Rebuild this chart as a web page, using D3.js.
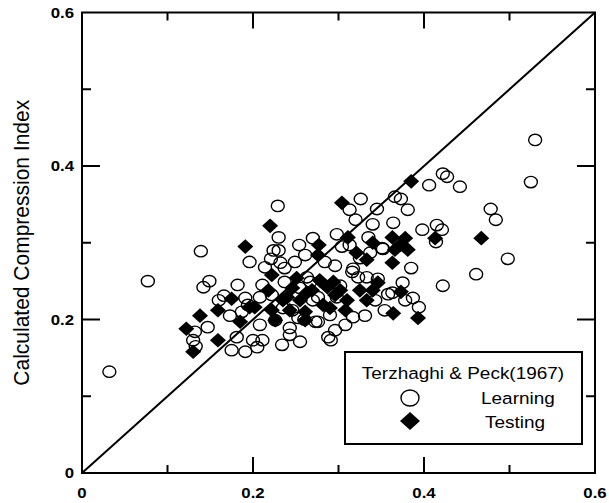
<!DOCTYPE html>
<html>
<head>
<meta charset="utf-8">
<script src="https://cdn.jsdelivr.net/npm/d3@7"></script>
<style>
  html, body { margin: 0; padding: 0; background: #fff; }
  svg { display: block; }
  text { font-family: "Liberation Sans", Arial, sans-serif; fill: #000; }
</style>
</head>
<body>
<svg id="chart" width="609" height="503"></svg>
<script>
// Measured vs. calculated compression index (Terzhaghi & Peck, 1967)
const learningX = [0.032,0.077,0.139,0.149,0.142,0.196,0.214,0.221,0.232,0.191,0.187,0.147,0.132,0.130,0.133,
  0.229,0.230,0.224,0.230,0.254,0.270,0.298,0.304,0.326,0.313,0.320,0.345,0.340,0.364,0.335,0.351,0.366,0.373,0.381,
  0.406,0.422,0.427,0.442,0.530,0.525,0.478,0.484,0.498,0.461,0.422,0.398,0.415,0.421,0.414,0.385,0.352,0.337,
  0.296,0.317,0.323,0.333,0.346,0.375,0.363,0.358,0.394,0.317,0.273,0.276,0.253,0.243,0.288,0.181,0.222,0.263,
  0.267,0.270,0.276,0.298,0.316,0.175,0.191,0.205,0.211,0.200,0.255,0.173,0.235,0.208,0.237,0.255,0.302,0.284,
  0.387,0.331,0.296,0.291,0.166,0.160,0.246,0.260,
  0.237,0.249,0.261,0.313,0.325,0.290,0.308,0.343,0.354,0.378,0.226,0.208,0.234,0.243,0.194,0.182,0.211];
const learningY = [0.132,0.250,0.289,0.250,0.242,0.275,0.268,0.279,0.274,0.228,0.210,0.190,0.184,0.173,0.165,
  0.348,0.307,0.290,0.290,0.297,0.306,0.311,0.295,0.357,0.343,0.330,0.344,0.324,0.326,0.307,0.293,0.360,0.357,0.343,
  0.375,0.390,0.386,0.373,0.434,0.379,0.344,0.330,0.279,0.259,0.244,0.317,0.323,0.317,0.301,0.267,0.292,0.287,
  0.270,0.266,0.255,0.255,0.253,0.248,0.235,0.233,0.216,0.203,0.197,0.197,0.202,0.189,0.177,0.177,0.232,0.255,
  0.249,0.225,0.229,0.229,0.262,0.160,0.158,0.164,0.173,0.173,0.171,0.205,0.215,0.229,0.249,0.241,0.244,0.275,
  0.228,0.205,0.186,0.173,0.231,0.225,0.212,0.200,
  0.267,0.275,0.284,0.297,0.280,0.206,0.193,0.225,0.212,0.225,0.199,0.193,0.167,0.180,0.219,0.245,0.245];

const testingX = [0.191,0.220,0.175,0.159,0.138,0.202,0.185,0.222,0.277,0.276,0.304,0.311,0.321,0.340,0.333,0.363,
  0.364,0.290,0.226,0.222,0.196,0.246,0.240,0.278,0.287,0.263,0.302,0.310,0.325,0.333,0.340,0.385,0.467,0.413,
  0.363,0.372,0.381,0.366,0.378,0.346,0.373,0.393,0.130,0.159,0.122,0.308,0.294,0.261,
  0.255,0.269,0.282,0.296,0.243,0.261,0.235,0.251,0.218];
const testingY = [0.295,0.322,0.227,0.212,0.205,0.216,0.197,0.258,0.297,0.284,0.352,0.307,0.287,0.300,0.278,0.274,
  0.208,0.215,0.199,0.212,0.216,0.241,0.229,0.251,0.242,0.235,0.238,0.225,0.238,0.225,0.238,0.380,0.306,0.306,
  0.307,0.297,0.291,0.291,0.306,0.248,0.236,0.202,0.158,0.173,0.188,0.212,0.249,0.199,
  0.225,0.238,0.219,0.232,0.212,0.210,0.225,0.254,0.238];

const xTickValues = [0, 0.2, 0.4, 0.6];
const yTickValues = [0, 0.2, 0.4, 0.6];
const minorTickValues = [0.1, 0.3, 0.5];
const yAxisTitle = "Calculated Compression Index";
const legendTitle = "Terzhaghi & Peck(1967)";
const seriesNames = ["Learning", "Testing"];

const svg = d3.select("#chart");
const plotL = 82, plotR = 595, plotT = 12.5, plotB = 473;
const x = d3.scaleLinear().domain([0, 0.6]).range([plotL, plotR]);
const y = d3.scaleLinear().domain([0, 0.6]).range([plotB, plotT]);
const sx = 1.2; // glyphs are drawn slightly wide

function wideText(g, px, py, str, opts) {
  return g.append("text")
    .attr("transform", `translate(${px},${py}) scale(${opts.sx || sx},1)`)
    .attr("font-size", opts.size)
    .attr("font-weight", opts.weight || "normal")
    .attr("text-anchor", opts.anchor || "start")
    .text(str);
}

// diagonal 1:1 line
svg.append("line")
  .attr("x1", x(0)).attr("y1", y(0)).attr("x2", x(0.6)).attr("y2", y(0.6))
  .attr("stroke", "#000").attr("stroke-width", 2);

// learning points: open circles
const learning = d3.zip(learningX, learningY);
svg.append("g").selectAll("ellipse").data(learning).join("ellipse")
  .attr("cx", d => x(d[0])).attr("cy", d => y(d[1]))
  .attr("rx", 6.5).attr("ry", 5.7)
  .attr("fill", "none").attr("stroke", "#000").attr("stroke-width", 1.4);

// testing points: filled diamonds
const diamond = (cx, cy, hw, hh) => `M${cx},${cy-hh}L${cx+hw},${cy}L${cx},${cy+hh}L${cx-hw},${cy}Z`;
const testing = d3.zip(testingX, testingY);
svg.append("g").selectAll("path").data(testing).join("path")
  .attr("d", d => diamond(x(d[0]), y(d[1]), 8, 7.3))
  .attr("fill", "#000");

// frame
svg.append("rect")
  .attr("x", plotL).attr("y", plotT).attr("width", plotR - plotL).attr("height", plotB - plotT)
  .attr("fill", "none").attr("stroke", "#000").attr("stroke-width", 2);

// inward ticks on all four sides
const ticks = svg.append("g").attr("stroke", "#000").attr("stroke-width", 2);
[0.2, 0.4].forEach(v => {
  ticks.append("line").attr("x1", x(v)).attr("x2", x(v)).attr("y1", plotB).attr("y2", plotB - 16);
  ticks.append("line").attr("x1", x(v)).attr("x2", x(v)).attr("y1", plotT).attr("y2", plotT + 16);
  ticks.append("line").attr("y1", y(v)).attr("y2", y(v)).attr("x1", plotL).attr("x2", plotL + 18);
  ticks.append("line").attr("y1", y(v)).attr("y2", y(v)).attr("x1", plotR).attr("x2", plotR - 18);
});
minorTickValues.forEach(v => {
  ticks.append("line").attr("x1", x(v)).attr("x2", x(v)).attr("y1", plotB).attr("y2", plotB - 8);
  ticks.append("line").attr("x1", x(v)).attr("x2", x(v)).attr("y1", plotT).attr("y2", plotT + 8);
  ticks.append("line").attr("y1", y(v)).attr("y2", y(v)).attr("x1", plotL).attr("x2", plotL + 9);
  ticks.append("line").attr("y1", y(v)).attr("y2", y(v)).attr("x1", plotR).attr("x2", plotR - 9);
});

// tick labels
const fmt = v => v === 0 ? "0" : d3.format(".1f")(v);
const labels = svg.append("g");
xTickValues.forEach(v => wideText(labels, x(v), 498, fmt(v), {size: 14, weight: "bold", anchor: "middle"}));
yTickValues.forEach(v => wideText(labels, 74, y(v) + 5, fmt(v), {size: 14, weight: "bold", anchor: "end"}));

// y axis title
svg.append("text")
  .attr("transform", `translate(29,${(plotT + plotB) / 2}) scale(1.05,1) rotate(-90)`)
  .attr("font-size", 21)
  .attr("text-anchor", "middle")
  .text(yAxisTitle);

// legend
const lg = svg.append("g");
lg.append("rect").attr("x", 345).attr("y", 352).attr("width", 237).attr("height", 92)
  .attr("fill", "#fff").attr("stroke", "#000").attr("stroke-width", 2);
wideText(lg, 463, 379, legendTitle, {size: 16.5, anchor: "middle", sx: 1.15});
lg.append("ellipse").attr("cx", 410).attr("cy", 398).attr("rx", 9).attr("ry", 8)
  .attr("fill", "none").attr("stroke", "#000").attr("stroke-width", 1.4);
wideText(lg, 481, 404, seriesNames[0], {size: 16.5, sx: 1.15});
lg.append("path").attr("d", diamond(410, 421, 10, 9)).attr("fill", "#000");
wideText(lg, 485, 428, seriesNames[1], {size: 16.5, sx: 1.15});
</script>
</body>
</html>
